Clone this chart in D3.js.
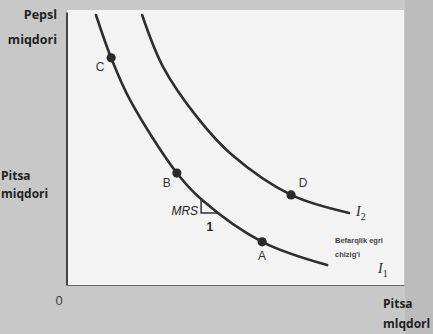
<!DOCTYPE html>
<html>
<head>
<meta charset="utf-8">
<script src="https://cdn.jsdelivr.net/npm/d3@7"></script>
<style>
  html, body { margin: 0; padding: 0; background: #c7c7c7; }
  svg { display: block; }
</style>
</head>
<body>
<svg id="chart" width="433" height="334"></svg>
<script>
// ---- data (axis units 0..100) ----
const curveNames = ["I1", "I2"];
const i1X = [8.6, 13.1, 18.7, 32.6, 40.1, 57.9, 77.2];
const i1Y = [98.9, 83.2, 67.8, 41.0, 31.1, 15.8, 7.3];
const i2X = [22.3, 28.5, 38.6, 49.0, 66.5, 83.7];
const i2Y = [98.9, 79.9, 61.5, 47.6, 33.0, 26.4];

const pointLabels = ["C", "B", "A", "D"];
const pointX = [13.1, 32.6, 57.9, 66.5];
const pointY = [83.2, 41.0, 15.8, 33.0];

// MRS triangle (rise over run of 1)
const mrsX = [39.8, 39.8, 45.0];
const mrsY = [31.5, 26.4, 26.4];

const yTitle = ["Pepsl", "miqdori"];
const yTitle2 = ["Pitsa", "miqdori"];
const xTitle = ["Pitsa", "mlqdorl"];
const legendText = ["Befarqlik egri", "chizig'i"];

// ---- layout ----
const svg = d3.select("#chart");
const W = 433, H = 334;
const plot = { left: 67, right: 404, top: 12, bottom: 285 };

const x = d3.scaleLinear().domain([0, 100]).range([plot.left, plot.right]);
const y = d3.scaleLinear().domain([0, 100]).range([plot.bottom, plot.top]);

// backgrounds
svg.append("rect").attr("x", 0).attr("y", 0).attr("width", W).attr("height", H).attr("fill", "#c8c8c8");
svg.append("rect").attr("x", 405).attr("y", 0).attr("width", W - 405).attr("height", H).attr("fill", "#bcbcbc");
svg.append("rect").attr("x", plot.left).attr("y", 10)
  .attr("width", plot.right - plot.left).attr("height", plot.bottom - 10)
  .attr("fill", "#f3f3f3");

// axes (no ticks)
const xAxis = d3.axisBottom(x).tickValues([]).tickSizeOuter(0);
const yAxis = d3.axisLeft(y).tickValues([]).tickSizeOuter(0);
svg.append("g").attr("transform", `translate(0,${plot.bottom})`).call(xAxis)
  .select(".domain").attr("stroke", "#666").attr("stroke-width", 1.2);
svg.append("g").attr("transform", `translate(${plot.left - 0.5},0)`).call(yAxis)
  .select(".domain").attr("stroke", "#444").attr("stroke-width", 2);

// curves
const line = d3.line()
  .x(d => x(d[0])).y(d => y(d[1]))
  .curve(d3.curveCatmullRom.alpha(0.5));
const curves = [d3.zip(i1X, i1Y), d3.zip(i2X, i2Y)];
svg.selectAll("path.ic").data(curves).join("path")
  .attr("class", "ic")
  .attr("d", line)
  .attr("fill", "none")
  .attr("stroke", "#2e2e2e")
  .attr("stroke-width", 2.6)
  .attr("stroke-linecap", "round");

// MRS triangle
svg.append("path")
  .attr("d", d3.line().x(d => x(d[0])).y(d => y(d[1]))(d3.zip(mrsX, mrsY)))
  .attr("fill", "none").attr("stroke", "#333").attr("stroke-width", 1.5);

// points
const pts = d3.zip(pointLabels, pointX, pointY);
svg.selectAll("circle.pt").data(pts).join("circle")
  .attr("class", "pt")
  .attr("cx", d => x(d[1])).attr("cy", d => y(d[2]))
  .attr("r", 4.6).attr("fill", "#2a2a2a");

const labelOffsets = { C: [-11, 13], B: [-10, 14], A: [0, 18], D: [12, -8] };
svg.selectAll("text.pl").data(pts).join("text")
  .attr("class", "pl")
  .attr("x", d => x(d[1]) + labelOffsets[d[0]][0])
  .attr("y", d => y(d[2]) + labelOffsets[d[0]][1])
  .attr("text-anchor", "middle")
  .attr("font-family", "Liberation Sans, Arial, sans-serif")
  .attr("font-size", 12)
  .attr("fill", "#333")
  .text(d => d[0]);

// MRS text
svg.append("text").attr("x", x(mrsX[0]) - 3).attr("y", y(mrsY[1]) + 2)
  .attr("text-anchor", "end")
  .attr("font-family", "Liberation Sans, Arial, sans-serif")
  .attr("font-style", "italic").attr("font-size", 12).attr("fill", "#222")
  .text("MRS");
svg.append("text").attr("x", (x(mrsX[1]) + x(mrsX[2])) / 2).attr("y", y(mrsY[1]) + 18)
  .attr("text-anchor", "middle")
  .attr("font-family", "Liberation Sans, Arial, sans-serif")
  .attr("font-weight", "bold").attr("font-size", 12).attr("fill", "#222")
  .text("1");

// curve labels I1, I2
const curveLabelPos = [[378, 273], [356, 216]];
curveNames.forEach((n, i) => {
  const t = svg.append("text")
    .attr("x", curveLabelPos[i][0]).attr("y", curveLabelPos[i][1])
    .attr("font-family", "Liberation Serif, Times New Roman, serif")
    .attr("font-style", "italic").attr("font-size", 14).attr("fill", "#2a2a2a");
  t.append("tspan").text(n[0]);
  t.append("tspan").attr("dy", 4).attr("font-size", 10).attr("font-style", "normal").text(n[1]);
});

// legend-ish caption
legendText.forEach((s, i) => {
  svg.append("text").attr("x", 335).attr("y", 243 + i * 14)
    .attr("font-family", "Liberation Sans Narrow, Liberation Sans, Arial, sans-serif")
    .attr("font-weight", "bold").attr("font-size", 7.5).attr("fill", "#444")
    .text(s);
});

// axis titles
const boldFont = "Open Sans, Noto Sans, sans-serif";
yTitle.forEach((s, i) => {
  svg.append("text").attr("x", 57).attr("y", 19 + i * 25)
    .attr("text-anchor", "end")
    .attr("font-family", boldFont).attr("font-weight", "bold")
    .attr("font-size", 12.5).attr("fill", "#222").text(s);
});
yTitle2.forEach((s, i) => {
  svg.append("text").attr("x", 1).attr("y", 180 + i * 18)
    .attr("font-family", boldFont).attr("font-weight", "bold")
    .attr("font-size", 12).attr("fill", "#222").text(s);
});
xTitle.forEach((s, i) => {
  svg.append("text").attr("x", 383).attr("y", 308 + i * 20)
    .attr("font-family", boldFont).attr("font-weight", "bold")
    .attr("font-size", 12).attr("fill", "#222").text(s);
});

svg.append("text").attr("x", 59).attr("y", 305)
  .attr("text-anchor", "middle")
  .attr("font-family", "Liberation Sans, Arial, sans-serif")
  .attr("font-size", 13).attr("fill", "#444").text("0");
</script>
</body>
</html>
